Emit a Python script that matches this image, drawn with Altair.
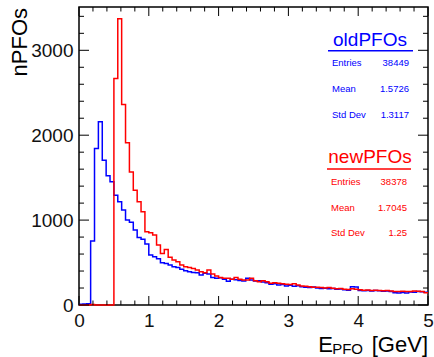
import altair as alt
import pandas as pd

# ---- data (90 bins, 0..5 GeV) ----
n_bins = 90
x_min, x_max = 0.0, 5.0
old_counts = [10, 12, 15, 753, 1843, 2157, 1706, 1522, 1451, 1294,
              1216, 1118, 1000, 975, 882, 796, 773, 718, 588, 569,
              545, 498, 490, 471, 451, 443, 420, 404, 392, 384,
              380, 353, 373, 365, 325, 314, 320, 302, 280, 302,
              298, 290, 282, 314, 294, 282, 286, 270, 263, 243,
              250, 235, 240, 225, 232, 222, 228, 215, 210, 205,
              212, 200, 195, 198, 190, 195, 185, 188, 180, 175,
              215, 212, 170, 168, 172, 165, 170, 168, 162, 165,
              158, 145, 142, 148, 140, 152, 150, 160, 155, 150]
new_counts = [0, 0, 0, 5, 0, 0, 0, 0, 0, 2667,
              3373, 2361, 1910, 1568, 1353, 1216, 1098, 863, 851, 824,
              706, 608, 655, 561, 530, 510, 471, 451, 443, 431,
              412, 392, 380, 412, 365, 341, 325, 314, 314, 302,
              325, 302, 294, 294, 314, 286, 275, 286, 275, 255,
              262, 255, 250, 245, 240, 250, 235, 225, 222, 215,
              210, 208, 205, 200, 205, 198, 192, 195, 185, 182,
              190, 185, 180, 175, 178, 170, 175, 172, 168, 170,
              165, 160, 158, 162, 160, 158, 165, 162, 158, 145]
series_names = ["oldPFOs", "newPFOs"]
series_colors = ["#0000ff", "#ff0000"]
stats_labels = ["Entries", "Mean", "Std Dev"]
old_stats = ["38449", "1.5726", "1.3117"]
new_stats = ["38378", "1.7045", "1.25"]
x_major = [0, 1, 2, 3, 4, 5]
x_minor = [round(0.2 * i, 1) for i in range(26) if i % 5 != 0]
y_major = [0, 1000, 2000, 3000]
y_minor = [200 * i for i in range(1, 18) if i % 5 != 0]
y_max = 3510

W, H = 349, 298
FONT = "Liberation Sans"

bw = (x_max - x_min) / n_bins
rows = []
for name, counts in zip(series_names, [old_counts, new_counts]):
    for i, c in enumerate(counts):
        rows.append({"series": name, "e": x_min + i * bw, "n": c, "ord": i})
    rows.append({"series": name, "e": x_max, "n": counts[-1], "ord": n_bins})
df = pd.DataFrame(rows)

xs = alt.Scale(domain=[x_min, x_max], nice=False, zero=False)
ys = alt.Scale(domain=[0, y_max], nice=False, zero=True)

x_axis = alt.Axis(values=x_major, ticks=False, domain=False, grid=False,
                  labelFontSize=19, labelFont=FONT, labelColor="#111",
                  labelPadding=6, labelFlush=False, labelOverlap=False,
                  format="d", title=None)
y_axis = alt.Axis(values=y_major, ticks=False, domain=False, grid=False,
                  labelFontSize=19, labelFont=FONT, labelColor="#111",
                  labelPadding=6, labelFlush=False, labelOverlap=False,
                  format="d", title=None)

lines = alt.Chart(df).mark_line(interpolate="step-after", strokeWidth=1.5).encode(
    x=alt.X("e:Q", scale=xs, axis=x_axis, title=None),
    y=alt.Y("n:Q", scale=ys, axis=y_axis, title=None),
    color=alt.Color("series:N", scale=alt.Scale(domain=series_names, range=series_colors),
                    legend=None),
    order="ord:Q",
    detail="series:N",
)

def xticks(vals, length):
    d = pd.DataFrame({"v": vals})
    b = alt.Chart(d).mark_rule(color="black", strokeWidth=1).encode(
        x=alt.X("v:Q", scale=xs, axis=x_axis, title=None), y=alt.value(H), y2=alt.value(H - length))
    t = alt.Chart(d).mark_rule(color="black", strokeWidth=1).encode(
        x=alt.X("v:Q", scale=xs, axis=x_axis, title=None), y=alt.value(0), y2=alt.value(length))
    return [b, t]

def yticks(vals, length):
    d = pd.DataFrame({"v": vals})
    l = alt.Chart(d).mark_rule(color="black", strokeWidth=1).encode(
        y=alt.Y("v:Q", scale=ys, axis=y_axis, title=None), x=alt.value(0), x2=alt.value(length))
    r = alt.Chart(d).mark_rule(color="black", strokeWidth=1).encode(
        y=alt.Y("v:Q", scale=ys, axis=y_axis, title=None), x=alt.value(W), x2=alt.value(W - length))
    return [l, r]

ticks = xticks(x_major, 9) + xticks(x_minor, 4.5) + yticks(y_major, 10) + yticks(y_minor, 5)

def txt(s, x, y, size, color="black", align="left", baseline="alphabetic", angle=0):
    kw = dict(text=s, fontSize=size, font=FONT, color=color, align=align, baseline=baseline)
    if angle:
        kw["angle"] = angle
    return alt.Chart(pd.DataFrame({"a": [0]})).mark_text(**kw).encode(
        x=alt.value(x), y=alt.value(y))

def hline(x1, x2, y, color):
    return alt.Chart(pd.DataFrame({"a": [0]})).mark_rule(color=color, strokeWidth=1.5).encode(
        x=alt.value(x1), x2=alt.value(x2), y=alt.value(y))

annots = [
    txt("nPFOs", -52, 1, 22, align="right", angle=270),
    txt("E", 254, 345, 22, align="right"),
    txt("PFO", 284, 346.5, 15, align="right"),
    txt("[GeV]", 349, 345, 22, align="right"),
]

# stats boxes
blocks = [
    (series_names[0], series_colors[0], old_stats, 39, 43.7, [56, 82, 108], 253, 330),
    (series_names[1], series_colors[1], new_stats, 156, 162, [175, 201, 226], 252, 328),
]
for name, col, vals, ty, uy, rowy, lx, rx in blocks:
    annots.append(txt(name, 291, ty, 19, color=col, align="center"))
    annots.append(hline(lx - 4, rx + 4, uy, col))
    for lab, v, yy in zip(stats_labels, vals, rowy):
        annots.append(txt(lab, lx, yy, 9.5, color=col, baseline="middle"))
        annots.append(txt(v, rx, yy, 9.5, color=col, align="right", baseline="middle"))

chart = alt.layer(lines, *ticks, *annots).properties(
    width=W, height=H,
    padding={"left": 79, "top": 7, "right": 6, "bottom": 52},
    autosize=alt.AutoSizeParams(type="none"),
    background="white",
).configure_view(stroke="black", strokeWidth=1.5)

chart.save("out.html", embed_options={"renderer": "svg", "actions": False})
